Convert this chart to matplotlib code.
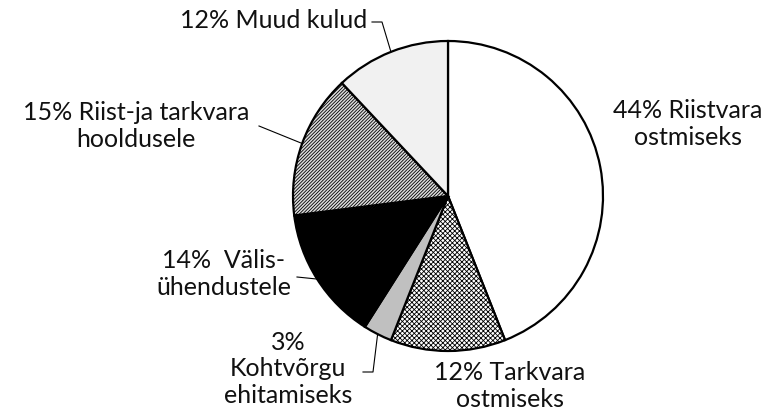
import numpy as np
import matplotlib
matplotlib.use("Agg")
import matplotlib.pyplot as plt

# slice data, clockwise from 12 o'clock
labels = [
    "44% Riistvara\nostmiseks",
    "12% Tarkvara\nostmiseks",
    "3%\nKohtvõrgu\nehitamiseks",
    "14%  Välis-\nühendustele",
    "15% Riist-ja tarkvara\nhooldusele",
    "12% Muud kulud",
]
shares = [44, 12, 3, 14, 15, 12]

colors = ["white", "white", "#c0c0c0", "black", "#dcdcdc", "#f1f1f1"]
hatches = [None, "xxxxxxx", None, None, "//////////", None]

W, H = 775, 413
CX, CY, R = 448, 196, 155

plt.rcParams["font.family"] = ["Lato", "DejaVu Sans"]
plt.rcParams["hatch.linewidth"] = 0.6

fig = plt.figure(figsize=(W / 100, H / 100), dpi=100)
ax = fig.add_axes([0, 0, 1, 1])


def px(x, y):
    return (x - CX) / R, (CY - y) / R


wedges, _ = ax.pie(
    shares,
    colors=colors,
    startangle=90,
    counterclock=False,
    wedgeprops=dict(edgecolor="black", linewidth=1.6),
)
for w, h in zip(wedges, hatches):
    if h:
        w.set_hatch(h)

ax.set_xlim(px(0, 0)[0], px(W, 0)[0])
ax.set_ylim(px(0, H)[1], px(0, 0)[1])
ax.set_aspect("equal")
ax.axis("off")

# text placement (pixel coords of text centre)
text_pos = [(688, 124), (510, 386), (288, 369), (224, 274), (136, 126), (274, 21)]
# leader lines: points from the text towards the pie edge
leaders = {
    5: [(372, 22), (382, 22)],
    4: [(259, 126)],
    3: [(297, 277)],
    2: [(363, 372), (373, 372)],
}

for i, (lab, (tx, ty)) in enumerate(zip(labels, text_pos)):
    x, y = px(tx, ty)
    ax.text(x, y, lab, ha="center", va="center", fontsize=18,
            linespacing=1.2, color="#111111")
    if i in leaders:
        w = wedges[i]
        mid = np.deg2rad((w.theta1 + w.theta2) / 2)
        pts = [px(*p) for p in leaders[i]] + [(np.cos(mid), np.sin(mid))]
        xs, ys = zip(*pts)
        ax.plot(xs, ys, color="black", lw=0.8)

fig.savefig("out.png", dpi=100)
